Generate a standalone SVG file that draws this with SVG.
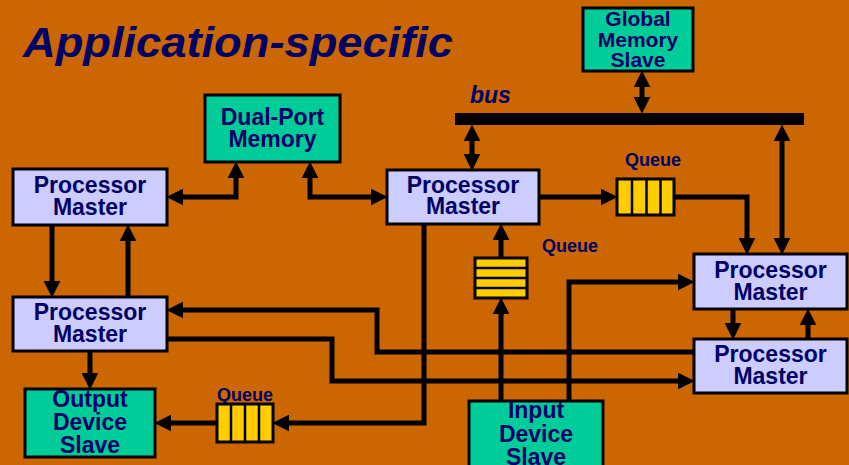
<svg xmlns="http://www.w3.org/2000/svg" width="849" height="465" viewBox="0 0 849 465">
<defs>
<style>
.bg{fill:#CC6600}
.pm{fill:#CCCCFF;stroke:#000;stroke-width:3}
.gr{fill:#00CC99;stroke:#000;stroke-width:3}
.q{fill:#FFCC00;stroke:#000;stroke-width:3}
.qd{stroke:#000;stroke-width:2.5}
text{font-family:"Liberation Sans",Arial,sans-serif;font-weight:bold;fill:#000066;text-anchor:middle}
.t{font-size:23px}
.ts{font-size:21px}
.ql{font-size:18px}
.ti{font-style:italic;text-anchor:start}
.c{fill:none;stroke:#000;stroke-width:5;stroke-linejoin:miter}
.a{marker-end:url(#ah)}
.d{marker-start:url(#ah);marker-end:url(#ah)}
</style>
<marker id="ah" markerUnits="userSpaceOnUse" markerWidth="17" markerHeight="17" refX="6" refY="8" orient="auto-start-reverse" viewBox="0 0 16 16">
<path d="M0,0 L16,8 L0,16 z" fill="#000"/>
</marker>
</defs>
<rect class="bg" x="0" y="0" width="849" height="465"/>
<text class="ti" x="23" y="57" style="font-size:42px" textLength="430" lengthAdjust="spacingAndGlyphs">Application-specific</text>

<g id="connectors">
<rect x="455" y="113" width="349" height="12" fill="#000"/>
<text class="ti" x="470" y="103" style="font-size:23px">bus</text>
<path class="c d" d="M177,197 H236 V172"/>
<path class="c d" d="M310,172 V197 H377"/>
<path class="c a" d="M52,225 V287"/>
<path class="c a" d="M128,297 V235"/>
<path class="c a" d="M90,351 V379"/>
<path class="c a" d="M694,352 H377 V310 H177"/>
<path class="c a" d="M167,339 H332 V381 H684"/>
<path class="c a" d="M424,224 V423 H283"/>
<path class="c a" d="M217,423 H165"/>
<path class="c a" d="M501,401 V308"/>
<path class="c a" d="M501,258 V234"/>
<path class="c a" d="M569,401 V282 H684"/>
<path class="c a" d="M539,197 H607"/>
<path class="c a" d="M674,197 H747 V244"/>
<path class="c d" d="M782,135 V244"/>
<path class="c d" d="M472,135 V160"/>
<path class="c d" d="M642,81 V103"/>
<path class="c a" d="M733,309 V329"/>
<path class="c a" d="M808,339 V319"/>
</g>

<g id="queue-top">
<text class="ql" x="653" y="166">Queue</text>
<rect class="q" x="617" y="179" width="57" height="36"/>
<path class="qd" d="M632,179 V215 M646.5,179 V215 M660.5,179 V215"/>
</g>
<g id="queue-mid">
<text class="ql" x="570" y="252">Queue</text>
<rect class="q" x="475" y="258" width="52" height="40"/>
<path class="qd" d="M475,268 H527 M475,278 H527 M475,288 H527"/>
</g>
<g id="queue-bottom">
<text class="ql" x="245" y="401">Queue</text>
<rect class="q" x="217" y="404" width="56" height="38"/>
<path class="qd" d="M231,404 V442 M245,404 V442 M259,404 V442"/>
</g>

<g id="dual-port-memory">
<rect class="gr" x="205" y="95" width="135" height="67"/>
<text class="t" x="272.5" y="125">Dual-Port</text>
<text class="t" x="272.5" y="147">Memory</text>
</g>
<g id="global-memory">
<rect class="gr" x="583" y="8" width="110" height="63"/>
<text class="ts" x="638" y="26">Global</text>
<text class="ts" x="638" y="47">Memory</text>
<text class="ts" x="638" y="67">Slave</text>
</g>
<g id="pm1">
<rect class="pm" x="13" y="169" width="154" height="56"/>
<text class="t" x="90" y="193">Processor</text>
<text class="t" x="90" y="215">Master</text>
</g>
<g id="pm2">
<rect class="pm" x="387" y="170" width="152" height="54"/>
<text class="t" x="463" y="193">Processor</text>
<text class="t" x="463" y="214">Master</text>
</g>
<g id="pm3">
<rect class="pm" x="694" y="254" width="153" height="55"/>
<text class="t" x="770.5" y="278">Processor</text>
<text class="t" x="770.5" y="300">Master</text>
</g>
<g id="pm4">
<rect class="pm" x="694" y="339" width="153" height="54"/>
<text class="t" x="770.5" y="362">Processor</text>
<text class="t" x="770.5" y="384">Master</text>
</g>
<g id="pm5">
<rect class="pm" x="13" y="297" width="154" height="54"/>
<text class="t" x="90" y="320">Processor</text>
<text class="t" x="90" y="342">Master</text>
</g>
<g id="output-device">
<rect class="gr" x="25" y="389" width="130" height="68"/>
<text class="t" x="90" y="407">Output</text>
<text class="t" x="90" y="430">Device</text>
<text class="t" x="90" y="453">Slave</text>
</g>
<g id="input-device">
<rect class="gr" x="469" y="401" width="134" height="70"/>
<text class="t" x="536" y="418">Input</text>
<text class="t" x="536" y="442">Device</text>
<text class="t" x="536" y="465">Slave</text>
</g>
</svg>
